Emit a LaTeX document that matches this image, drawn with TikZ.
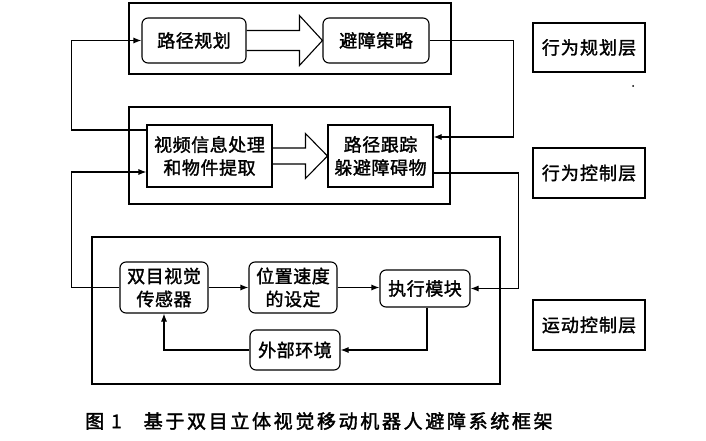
\documentclass[tikz,border=0pt]{standalone}
\usepackage{fontspec}
\setmainfont{Noto Sans CJK SC}
\newfontfamily\cjk[LetterSpace=3,FakeBold=1.6]{Noto Sans CJK SC}
\newfontfamily\cjklab[LetterSpace=6,FakeBold=1.6]{Noto Sans CJK SC}
\newfontfamily\cjkcap[LetterSpace=14,FakeBold=2]{Noto Sans CJK SC}
\usetikzlibrary{arrows.meta,calc}
\tikzset{
  ln/.style={line width=1.1pt},
  arr/.style={ln,-{Latex[length=8pt,width=6pt]}},
  frame/.style={draw,ln,minimum width=#1,inner sep=0pt},
  rbox/.style={draw,ln,rounded corners=6pt,align=center,inner sep=0pt,font=\cjk\fontsize{18}{23}\selectfont},
  sbox/.style={draw,ln,align=center,inner sep=0pt,font=\cjk\fontsize{18}{23}\selectfont},
  lab/.style={draw,ln,inner sep=0pt,minimum width=112pt,font=\cjklab\fontsize{18}{20}\selectfont},
  hollow/.style={ln,line join=miter}
}
\begin{document}
\begin{tikzpicture}[x=1pt,y=-1pt]
\useasboundingbox (0,0) rectangle (706,441);
% layer frames
\node[frame=322pt,minimum height=71pt] (ftop) at (290,38.5) {};
\node[frame=321pt,minimum height=97pt] (fmid) at (289.5,155.5) {};
\node[frame=408pt,minimum height=147pt] (fbot) at (296,310.5) {};
% top layer
\node[rbox,minimum width=104pt,minimum height=45pt] (lj) at (194,40.5) {路径规划};
\node[rbox,minimum width=106pt,minimum height=45pt] (bz) at (376,40.5) {避障策略};
% middle layer
\node[sbox,minimum width=125pt,minimum height=62pt] (sp) at (209.5,156) {视频信息处理\\和物件提取};
\node[sbox,minimum width=105pt,minimum height=62pt] (gz) at (380.5,156) {路径跟踪\\躲避障碍物};
% bottom layer
\node[rbox,minimum width=88pt,minimum height=51pt] (sm) at (164,287.5) {双目视觉\\传感器};
\node[rbox,minimum width=88pt,minimum height=51pt] (wz) at (293,287.5) {位置速度\\的设定};
\node[rbox,minimum width=90pt,minimum height=37pt] (zx) at (425,288.5) {执行模块};
\node[rbox,minimum width=90pt,minimum height=40pt] (wb) at (295,350) {外部环境};
% layer labels
\node[lab,minimum height=49pt] (l1) at (589,47.5) {行为规划层};
\node[lab,minimum height=50pt] (l2) at (589,173) {行为控制层};
\node[lab,minimum height=50pt] (l3) at (589,325) {运动控制层};
\fill (633,86) circle (1pt);
% hollow arrows
\draw[hollow] ([yshift=10pt]lj.east) -- ([xshift=-23pt,yshift=10pt]bz.west) -- ([xshift=-23pt,yshift=25pt]bz.west) -- (bz.west) -- ([xshift=-23pt,yshift=-25pt]bz.west) -- ([xshift=-23pt,yshift=-10pt]bz.west) -- ([yshift=-10pt]lj.east);
\draw[hollow] ([yshift=8pt]sp.east) -- ([xshift=-22pt,yshift=8pt]gz.west) -- ([xshift=-22pt,yshift=22.5pt]gz.west) -- (gz.west) -- ([xshift=-22pt,yshift=-22.5pt]gz.west) -- ([xshift=-22pt,yshift=-8pt]gz.west) -- ([yshift=-8pt]sp.east);
% connectors
\draw[arr] ([yshift=26pt]sp.west) -- ++(-75,0) |- (lj.west);
\draw[arr] (bz.east) -- ++(84,0) |- ([yshift=19pt]gz.east);
\draw[arr] (sm.west) -- ++(-48,0) |- ([yshift=-16pt]sp.west);
\draw[arr] ([yshift=-17pt]gz.east) -- ++(85,0) |- (zx.east);
\draw[arr] (sm.east) -- (wz.west);
\draw[arr] (wz.east) -- (wz.east -| zx.west);
\draw[arr] ([xshift=2pt]zx.south) |- (wb.east);
\draw[arr] (wb.west) -| (sm.south);
% caption
\node[anchor=west,inner sep=0pt,font=\cjkcap\fontsize{19}{22}\selectfont] (cap) at (85,421) {图\hspace{7pt}1\hspace{22pt}基于双目立体视觉移动机器人避障系统框架};
\end{tikzpicture}
\end{document}
